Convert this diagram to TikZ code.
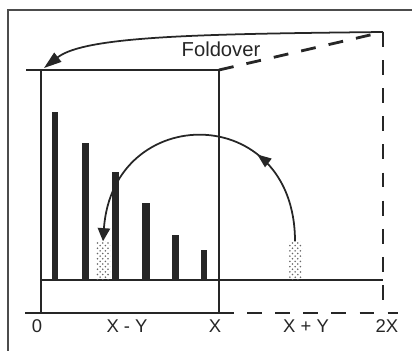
\documentclass[tikz,border=0pt]{standalone}
\usepackage{fontspec}
\setmainfont{Liberation Sans}
\usetikzlibrary{arrows.meta, patterns, decorations.markings}

\begin{document}
\begin{tikzpicture}[x=0.02cm, y=-0.02cm,
        >={Triangle[length=7.5pt, width=7pt]},
        every node/.style={font=\fontsize{10.5}{12}\selectfont, text=black!85},
        frame/.style={line width=0.7pt, black!70},
        box/.style={line width=1pt, black!85},
        dashline/.style={line width=1.6pt, black!85, dash pattern=on 8.5pt off 7.5pt},
        bar/.style={fill=black!85},
        stip/.style={inner sep=0pt, minimum width=0.28cm, minimum height=0.76cm,
            pattern=crosshatch dots, pattern color=black!60},
        midarrow/.style={postaction={decorate}, decoration={markings,
            mark=at position #1 with {\arrow{Triangle[length=8pt, width=6pt]}}}}]
    \useasboundingbox (0,0) rectangle (412,351);

    % 外框
    \draw[frame] (8,351) -- (8,10) -- (412,10);

    % 坐标
    \coordinate (tl) at (41,70);
    \coordinate (tr) at (219,70);
    \coordinate (bl) at (41,313);
    \coordinate (br) at (219,313);
    \coordinate (far) at (383,32);
    \coordinate (farb) at (383,313);
    \coordinate (end) at (398,313);
    \coordinate (tip) at (44,68);

    % 框
    \draw[box] (26,70) -- (tr) -- (br);
    \draw[box] (tl) -- (bl);
    \draw[box] (25,313) -- (br);
    \draw[box] (41,280) -- (383,280);
    \draw[dashline] (tr) -- (far);
    \draw[dashline] (far) -- (farb);
    \draw[dashline] (br) -- (end);

    % 柱
    \foreach \l/\w/\t in {52/6/112, 82/7/143, 112/7/172, 142/8/203, 172/7/235, 201/6/250}
        \fill[bar] (\l,280) rectangle (\l+\w,\t);
    \node[stip, anchor=south] (lo) at (103,280) {};
    \node[stip, anchor=south] (hi) at (295,280) {};

    % 文字
    \node[font=\fontsize{11.5}{13}\selectfont] (fold) at (221,49) {Foldover};
    \node (o) at (37,326) {0};
    \node (xmy) at (127,326) {X - Y};
    \node (x) at (215,326) {X};
    \node (xpy) at (306,326) {X + Y};
    \node (twox) at (387,326) {2X};

    % 箭头
    \draw[box, -{Triangle[length=10pt, width=6.5pt]}] (far) .. controls (200,34) and (85,36) .. (tip);
    \draw[box, ->, midarrow=0.31] (hi.north) .. controls +(0,-140) and +(10,-140) .. (lo.north);
\end{tikzpicture}
\end{document}
